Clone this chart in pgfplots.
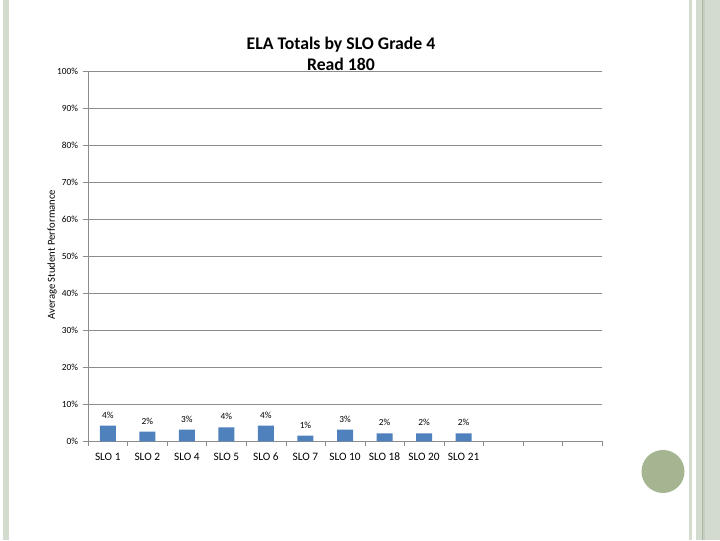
\documentclass[border=0pt]{standalone}
\usepackage{pgfplots}
\pgfplotsset{compat=1.18}
\usepackage{fontspec}
\setmainfont{Carlito}

\definecolor{barblue}{HTML}{4F81BD}
\definecolor{gridgray}{HTML}{8C8C8C}
\definecolor{slidegreen}{HTML}{D3DBCF}
\definecolor{slideline}{HTML}{A9B99F}
\definecolor{dotgreen}{HTML}{A5B592}

\begin{document}
\begin{tikzpicture}[x=0.75pt,y=0.75pt]
% slide background, 720 x 540 px, y measured from the bottom
\fill[white] (0,0) rectangle (720,540);
\fill[slidegreen] (3,0) rectangle (8.7,540);
\fill[slidegreen] (689,0) rectangle (692,540);
\fill[slidegreen] (696,0) rectangle (720,540);
\fill[slidegreen!85!gray] (702.5,0) rectangle (705,540);
\draw[slideline,line width=0.75pt] (702,0) -- (702,540);
\fill[dotgreen] (663,69) circle (21.5);

\begin{axis}[
    at={(66pt,74.25pt)}, anchor=south west,
    scale only axis,
    width=385.5pt, height=277.5pt,
    xmin=-0.5, xmax=12.5,
    ymin=0, ymax=1,
    axis x line*=bottom, axis y line*=left,
    axis line style={gridgray},
    xtick={0,...,9},
    xticklabels={SLO 1,SLO 2,SLO 4,SLO 5,SLO 6,SLO 7,SLO 10,SLO 18,SLO 20,SLO 21},
    major x tick style={draw=none},
    minor xtick={-0.5,0.5,...,12.5},
    minor x tick style={gridgray},
    ytick={0,0.1,...,1},
    yticklabels={0\%,10\%,20\%,30\%,40\%,50\%,60\%,70\%,80\%,90\%,100\%},
    y tick style={gridgray},
    tick align=outside,
    major tick length=4pt, minor tick length=3.5pt,
    ymajorgrids,
    grid style={gridgray},
    x tick label style={font=\fontsize{8.5}{9}\selectfont, yshift=-1pt},
    y tick label style={font=\fontsize{7}{8}\selectfont},
    ylabel={Average Student Performance},
    every axis y label/.style={at={(axis description cs:-0.070,0.505)},
        rotate=90, anchor=center, font=\fontsize{8}{9}\selectfont},
    clip=false,
]
\addplot[ybar, bar width=12pt, fill=barblue, draw=none,
    nodes near coords, point meta=explicit symbolic,
    every node near coord/.style={font=\fontsize{7}{8}\selectfont, yshift=2pt}]
  table[meta=label] {
    x y label
    0 0.043 4\%
    1 0.027 2\%
    2 0.032 3\%
    3 0.038 4\%
    4 0.043 4\%
    5 0.016 1\%
    6 0.032 3\%
    7 0.022 2\%
    8 0.022 2\%
    9 0.022 2\%
  };
\end{axis}

\node[font=\bfseries\fontsize{13.3}{15.75}\selectfont, align=center] at (341,486.5)
  {ELA Totals by SLO Grade 4\\Read 180};
\end{tikzpicture}
\end{document}
